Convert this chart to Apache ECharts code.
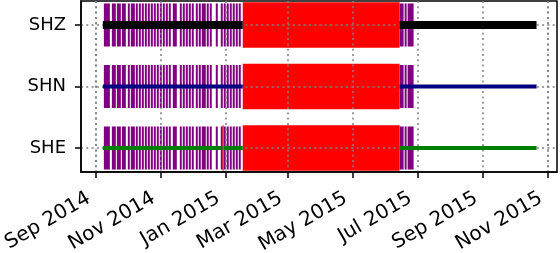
<!DOCTYPE html>
<html><head><meta charset="utf-8">
<script src="https://cdn.jsdelivr.net/npm/echarts@6/dist/echarts.min.js"></script>
<style>html,body{margin:0;padding:0;background:#fff}#c{width:560px;height:253px}</style>
</head><body><div id="c"></div>
<script>
// channels: index = y value
const channels = ['SHE', 'SHN', 'SHZ'];
const xTicks = ['2014-09-01', '2014-11-01', '2015-01-01', '2015-03-01', '2015-05-01', '2015-07-01', '2015-09-01', '2015-11-01'];
const dataSpan = ['2014-09-07 14:00', '2015-10-21 09:00'];
const mainGap = ['2015-01-17 11:00', '2015-06-14 08:00'];
const sheShortGap = ['2014-12-29 10:00', '2014-12-30 10:00'];
const purpleSegments = [
  ['2014-09-08 13:00', '2014-09-14 05:00'],
  ['2014-09-16 02:00', '2014-09-19 20:00'],
  ['2014-09-20 19:00', '2014-09-24 13:00'],
  ['2014-09-25 12:00', '2014-09-29 06:00'],
  ['2014-10-01 03:00', '2014-10-03 00:00'],
  ['2014-10-03 23:00', '2014-10-07 18:00'],
  ['2014-10-08 16:00', '2014-10-10 13:00'],
  ['2014-10-11 12:00', '2014-10-13 09:00'],
  ['2014-10-14 08:00', '2014-10-16 05:00'],
  ['2014-10-17 04:00', '2014-10-19 01:00'],
  ['2014-10-19 23:00', '2014-10-21 21:00'],
  ['2014-10-22 19:00', '2014-10-24 17:00'],
  ['2014-10-25 15:00', '2014-10-27 12:00'],
  ['2014-10-28 11:00', '2014-10-30 08:00'],
  ['2014-10-31 07:00', '2014-11-02 04:00'],
  ['2014-11-03 03:00', '2014-11-05 00:00'],
  ['2014-11-05 22:00', '2014-11-07 20:00'],
  ['2014-11-08 18:00', '2014-11-10 15:00'],
  ['2014-11-12 13:00', '2014-11-16 07:00'],
  ['2014-11-19 03:00', '2014-11-21 00:00'],
  ['2014-11-21 23:00', '2014-11-23 20:00'],
  ['2014-11-24 18:00', '2014-11-26 16:00'],
  ['2014-11-27 14:00', '2014-11-29 12:00'],
  ['2014-11-30 10:00', '2014-12-02 07:00'],
  ['2014-12-04 05:00', '2014-12-06 02:00'],
  ['2014-12-07 00:00', '2014-12-08 22:00'],
  ['2014-12-09 20:00', '2014-12-13 15:00'],
  ['2014-12-14 13:00', '2014-12-16 10:00'],
  ['2014-12-17 09:00', '2014-12-19 06:00'],
  ['2014-12-23 01:00', '2014-12-24 22:00'],
  ['2014-12-27 18:00', '2014-12-29 15:00'],
  ['2014-12-30 13:00', '2015-01-01 11:00'],
  ['2015-01-02 09:00', '2015-01-04 06:00'],
  ['2015-01-05 05:00', '2015-01-07 02:00'],
  ['2015-01-08 01:00', '2015-01-09 22:00'],
  ['2015-01-10 21:00', '2015-01-12 18:00'],
  ['2015-01-13 17:00', '2015-01-15 14:00'],
  ['2015-06-14 08:00', '2015-06-18 02:00'],
  ['2015-06-19 01:00', '2015-06-20 22:00'],
  ['2015-06-21 21:00', '2015-06-27 12:00']
];

const lineColors = { SHZ: '#000000', SHN: '#000080', SHE: '#008000' };
const lineWidths = { SHZ: 8, SHN: 4, SHE: 4 };

const purpleData = [];
channels.forEach((c, i) => purpleSegments.forEach(s => purpleData.push([s[0], s[1], i])));
const redData = channels.map((c, i) => [mainGap[0], mainGap[1], i]);
redData.push([sheShortGap[0], sheShortGap[1], 0]);

function rectRenderer(half) {
  return function (params, api) {
    const y = api.value(2);
    const p0 = api.coord([api.value(0), y + half]);
    const p1 = api.coord([api.value(1), y - half]);
    return {
      type: 'rect',
      shape: { x: p0[0], y: p0[1], width: Math.max(p1[0] - p0[0], 1), height: p1[1] - p0[1] },
      style: { fill: api.visual('color') }
    };
  };
}

function lineData(i) {
  const c = channels[i];
  const breaks = [mainGap];
  if (c === 'SHE') breaks.unshift(sheShortGap);
  const pts = [[dataSpan[0], i]];
  breaks.forEach(g => { pts.push([g[0], i]); pts.push([g[0], '-']); pts.push([g[1], i]); });
  pts.push([dataSpan[1], i]);
  return pts;
}

const font = 'DejaVu Sans';
const gridLine = { show: true, lineStyle: { color: '#808080', width: 1.5, type: [2, 3.3] } };

const chart = echarts.init(document.getElementById('c'), null, { renderer: 'canvas' });
chart.setOption({
  animation: false,
  grid: { left: 81, right: 3, top: 1, bottom: 81, show: true, borderColor: '#000', borderWidth: 1.5,
    containLabel: false, outerBoundsMode: 'none' },
  xAxis: {
    type: 'time', min: '2014-08-18 00:00', max: '2015-11-09 16:00', z: 3,
    axisLine: { onZero: false, lineStyle: { color: '#000', width: 1.5 } },
    axisTick: { customValues: xTicks, length: 6, lineStyle: { color: '#000', width: 1.5 } },
    axisLabel: { customValues: xTicks, formatter: '{MMM} {yyyy}', rotate: 30, margin: 21,
      padding: [0, 8, 0, 0], fontSize: 20, fontFamily: font, color: '#000' },
    splitLine: gridLine
  },
  yAxis: {
    type: 'value', min: -0.39, max: 2.39, z: 3,
    axisLine: { show: true, onZero: false, lineStyle: { color: '#000', width: 1.5 } },
    axisTick: { show: true, customValues: [0, 1, 2], length: 6, lineStyle: { color: '#000', width: 1.5 } },
    axisLabel: { customValues: [0, 1, 2], formatter: v => channels[v], margin: 15,
      fontSize: 18, fontFamily: font, color: '#000' },
    splitLine: gridLine
  },
  series: [
    { type: 'custom', z: 1, silent: true, itemStyle: { color: '#800080' },
      encode: { x: [0, 1], y: 2 }, renderItem: rectRenderer(0.35), data: purpleData },
    { type: 'custom', z: 1, silent: true, itemStyle: { color: '#ff0000' },
      encode: { x: [0, 1], y: 2 }, renderItem: rectRenderer(0.37), data: redData }
  ].concat(channels.map((c, i) => ({
    type: 'line', z: 5, silent: true, showSymbol: false, connectNulls: false,
    lineStyle: { color: lineColors[c], width: lineWidths[c], cap: 'butt' },
    data: lineData(i)
  })))
});
</script>
</body></html>
